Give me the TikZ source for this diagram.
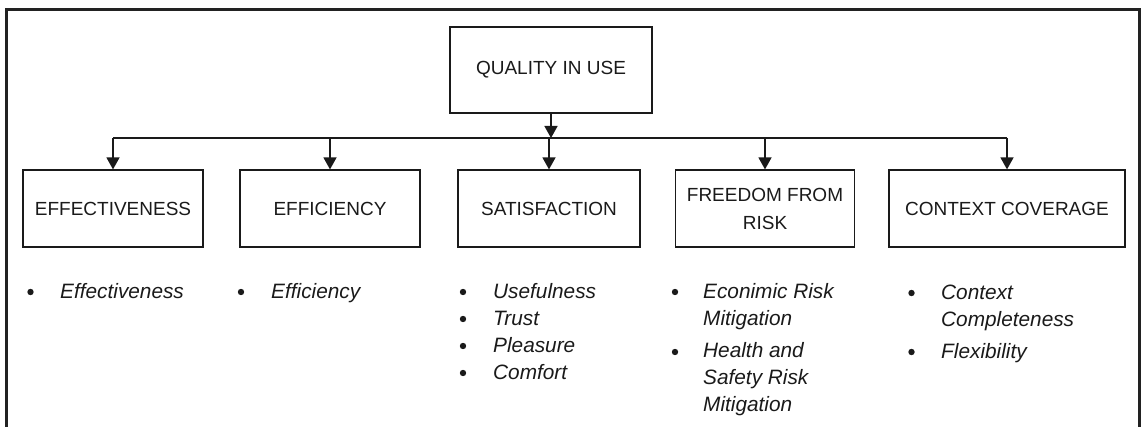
\documentclass[tikz,border=0pt]{standalone}
\usepackage{fontspec}
\setmainfont{Liberation Sans}
\usetikzlibrary{arrows.meta}
\definecolor{ink}{HTML}{1A1A1A}
\definecolor{frame}{HTML}{222222}
\begin{document}
\begin{tikzpicture}[x=1pt,y=-1pt,
  box/.style={draw=ink, line width=1.2pt, inner sep=0pt, align=center,
    font=\fontsize{19}{28}\selectfont, text=ink},
  conn/.style={draw=ink, line width=1.5pt},
  arr/.style={conn, -{Triangle[width=13pt,length=12pt]}},
  item/.style={inner sep=0pt, align=left, anchor=base west,
    font=\fontsize{20.8}{27}\selectfont\itshape, text=ink},
  dot/.style={fill=ink}
]
\useasboundingbox (0,0) rectangle (1141,427);
% outer frame (open at bottom)
\draw[frame, line width=3pt] (6,427) -- (6,9.5) -- (1139.5,9.5) -- (1139.5,427);

% top node
\node[box, minimum width=202pt, minimum height=86pt] (top) at (551,70) {QUALITY IN USE};
% children
\node[box, minimum width=180pt, minimum height=77pt] (b1) at (113,208.5) {EFFECTIVENESS};
\node[box, minimum width=180pt, minimum height=77pt] (b2) at (330,208.5) {EFFICIENCY};
\node[box, minimum width=182pt, minimum height=77pt] (b3) at (549,208.5) {SATISFACTION};
\node[box, minimum width=179pt, minimum height=77pt] (b4) at (765,208.5) {FREEDOM FROM\\RISK};
\node[box, minimum width=236pt, minimum height=77pt] (b5) at (1007,208.5) {CONTEXT COVERAGE};

% connectors
\coordinate (hl) at (0,138);
\draw[arr] (top.south) -- (top.south |- hl);
\draw[conn] (b1.north |- hl) -- (b5.north |- hl);
\foreach \b in {b1,b2,b3,b4,b5}{
  \draw[arr] (\b.north |- hl) -- (\b.north);
}

% bullet lists (anchor = baseline of the last line)
\node[item] (i1a) at (60,299) {Effectiveness};
\fill[dot] (30.5,292) circle (3.2pt);

\node[item] (i2a) at (271,299) {Efficiency};
\fill[dot] (241,292) circle (3.2pt);

\node[item] (i3a) at (493,299) {Usefulness};
\node[item] (i3b) at (493,326) {Trust};
\node[item] (i3c) at (493,353) {Pleasure};
\node[item] (i3d) at (493,380) {Comfort};
\foreach \yy in {292,319,346,373}{\fill[dot] (463,\yy) circle (3.2pt);}

\node[item] (i4a) at (703,326) {Econimic Risk\\Mitigation};
\node[item] (i4b) at (703,412) {Health and\\Safety Risk\\Mitigation};
\fill[dot] (675,292) circle (3.2pt);
\fill[dot] (675,352) circle (3.2pt);

\node[item] (i5a) at (941,327) {Context\\Completeness};
\node[item] (i5b) at (941,359) {Flexibility};
\fill[dot] (911.5,293) circle (3.2pt);
\fill[dot] (911.5,352) circle (3.2pt);
\end{tikzpicture}
\end{document}
